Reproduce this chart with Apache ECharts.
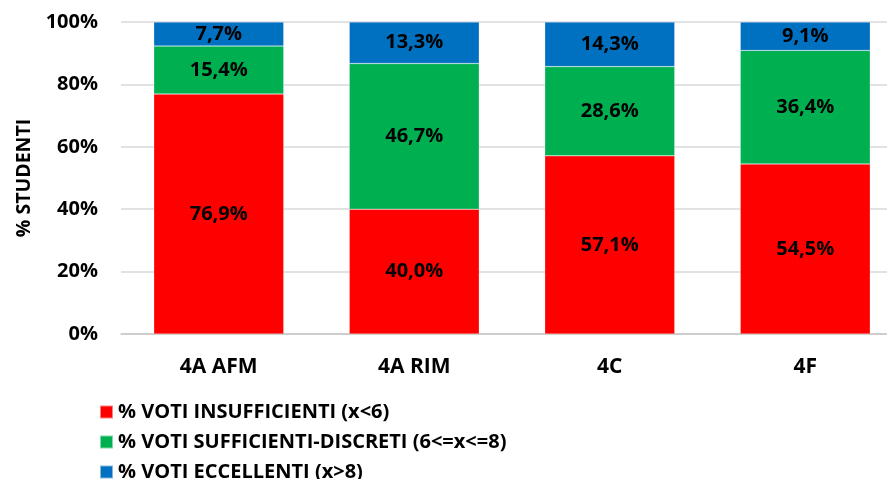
<!DOCTYPE html>
<html><head><meta charset="utf-8">
<script src="https://cdn.jsdelivr.net/npm/echarts@6/dist/echarts.min.js"></script>
<style>html,body{margin:0;padding:0;background:#fff}#c{width:887px;height:479px}</style>
</head><body><div id="c"></div>
<script>
var categories = ['4A AFM', '4A RIM', '4C', '4F'];
var insufficienti = [76.9, 40.0, 57.1, 54.5];
var sufficienti = [15.4, 46.7, 28.6, 36.4];
var eccellenti = [7.7, 13.3, 14.3, 9.1];
var seriesNames = ['% VOTI INSUFFICIENTI (x<6)', '% VOTI SUFFICIENTI-DISCRETI (6<=x<=8)', '% VOTI ECCELLENTI (x>8)'];
var yTicks = [0, 20, 40, 60, 80, 100];

var FONT = '"Open Sans"';
var chart = echarts.init(document.getElementById('c'));
function mk(name, data, color) {
  return {
    name: name, type: 'bar', stack: 'tot', data: data, barWidth: 130,
    itemStyle: { color: color, borderColor: 'rgba(255,255,255,0.5)', borderWidth: 0.5 },
    label: { show: true, position: 'inside', color: '#000', fontFamily: FONT, fontWeight: 'bold', fontSize: 20,
      formatter: function (p) { return p.value.toFixed(1).replace('.', ',') + '%'; } }
  };
}
chart.setOption({
  animation: false,
  grid: { left: 121, top: 22, width: 782, height: 312, containLabel: false, outerBoundsMode: 'none' },
  legend: {
    orient: 'vertical', left: 94, top: 397, height: 100, itemWidth: 13, itemHeight: 13, itemGap: 10,
    icon: 'rect',
    textStyle: { fontFamily: FONT, fontWeight: 'bold', fontSize: 20, color: '#000' },
    data: seriesNames
  },
  xAxis: {
    type: 'category', data: categories,
    axisLine: { lineStyle: { color: '#c8c8c8', width: 1.5 } },
    axisTick: { show: false },
    axisLabel: { margin: 23, fontFamily: FONT, fontWeight: 'bold', fontSize: 21, color: '#000' }
  },
  yAxis: {
    type: 'value', min: yTicks[0], max: yTicks[yTicks.length - 1], interval: 20,
    name: '% STUDENTI', nameLocation: 'middle', nameGap: 86, nameRotate: 90,
    nameTextStyle: { fontFamily: FONT, fontWeight: 'bold', fontSize: 19.5, color: '#000' },
    axisLine: { show: false }, axisTick: { show: false },
    splitLine: { lineStyle: { color: '#d9d9d9', width: 1.5 } },
    axisLabel: { margin: 23, fontFamily: FONT, fontWeight: 'bold', fontSize: 20, color: '#000', formatter: '{value}%' }
  },
  series: [
    mk(seriesNames[0], insufficienti, '#FF0000'),
    mk(seriesNames[1], sufficienti, '#00B050'),
    mk(seriesNames[2], eccellenti, '#0070C0')
  ]
});
</script></body></html>
